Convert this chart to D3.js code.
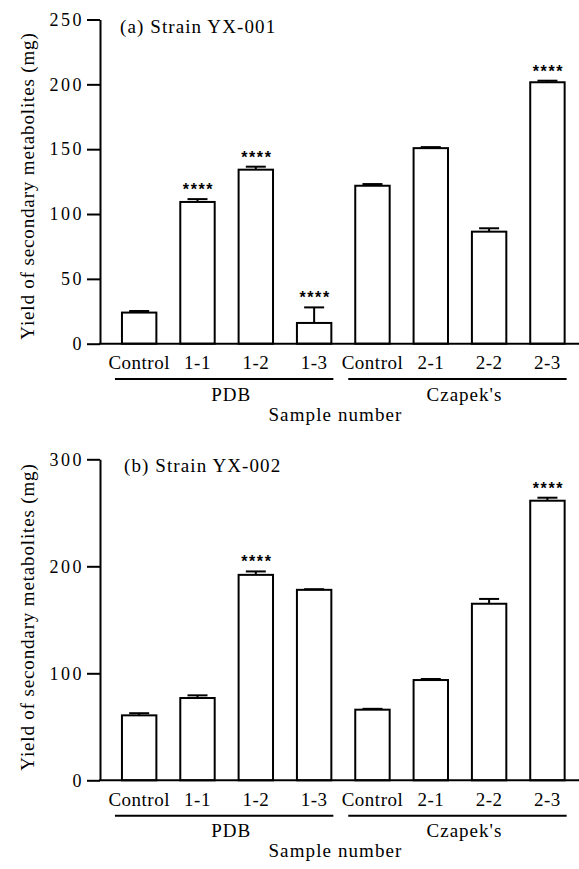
<!DOCTYPE html>
<html>
<head>
<meta charset="utf-8">
<script src="https://cdn.jsdelivr.net/npm/d3@7"></script>
<style>
  body { margin: 0; background: #fff; }
  text { font-family: "Liberation Serif", "Times New Roman", serif; fill: #000; }
</style>
</head>
<body>
<div id="chart"></div>
<script>
// sample order on the x axis (two controls, so keys differ from labels)
const sampleKeys = ["pdb-control", "1-1", "1-2", "1-3", "cz-control", "2-1", "2-2", "2-3"];
const sampleLabels = ["Control", "1-1", "1-2", "1-3", "Control", "2-1", "2-2", "2-3"];

// media groups under the x axis
const groupNames = ["PDB", "Czapek's"];
const groupFirst = ["pdb-control", "cz-control"];
const groupLast = ["1-3", "2-3"];

// (a) strain YX-001
const valuesA = [24, 109.3, 134.2, 16, 121.8, 150.8, 86.4, 201.6];
const errorsA = [1.2, 2.2, 2.3, 12, 1.3, 0.8, 2.6, 1.2];
const signifA = [false, true, true, true, false, false, false, true];
const ticksA = [0, 50, 100, 150, 200, 250];

// (b) strain YX-002
const valuesB = [60.7, 76.9, 192, 178, 66, 93.7, 165, 261.3];
const errorsB = [2, 2.5, 3.2, 0.6, 0.8, 1, 4.5, 2.8];
const signifB = [false, false, true, false, false, false, false, true];
const ticksB = [0, 100, 200, 300];

const width = 579, height = 869;
const axisX = 100;

const svg = d3.select("#chart")
  .append("svg")
  .attr("width", width)
  .attr("height", height);

// shared x scale, both panels use the same columns
const x = d3.scaleBand()
  .domain(sampleKeys)
  .range([110, 576.6])
  .paddingInner(0.41)
  .paddingOuter(0.205);

const panels = [
  {title: "(a) Strain YX-001", values: valuesA, errors: errorsA, signif: signifA,
   ticks: ticksA, top: 19.5, bottom: 343.7, titleX: 120, titleY: 33, labelY: 186},
  {title: "(b) Strain YX-002", values: valuesB, errors: errorsB, signif: signifB,
   ticks: ticksB, top: 459.3, bottom: 780.3, titleX: 124, titleY: 471.7, labelY: 617}
];

panels.forEach(function (p) {
  const g = svg.append("g");
  const yMax = d3.max(p.ticks);

  const y = d3.scaleLinear()
    .domain([0, yMax])
    .range([p.bottom, p.top]);

  const rows = sampleKeys.map(function (k, i) {
    return {key: k, value: p.values[i], err: p.errors[i], sig: p.signif[i]};
  });

  // bars
  g.selectAll("rect.bar")
    .data(rows)
    .enter()
    .append("rect")
      .attr("class", "bar")
      .attr("x", d => x(d.key))
      .attr("y", d => y(d.value))
      .attr("width", x.bandwidth())
      .attr("height", d => y(0) - y(d.value))
      .attr("fill", "#fff")
      .attr("stroke", "#000")
      .attr("stroke-width", 2);

  // error bars (upper half only)
  const err = g.selectAll("g.err")
    .data(rows)
    .enter()
    .append("g")
      .attr("class", "err")
      .attr("stroke", "#000")
      .attr("stroke-width", 2);

  err.append("line")
    .attr("x1", d => x(d.key) + x.bandwidth() / 2)
    .attr("x2", d => x(d.key) + x.bandwidth() / 2)
    .attr("y1", d => y(d.value))
    .attr("y2", d => y(d.value + d.err));

  err.append("line")
    .attr("x1", d => x(d.key) + x.bandwidth() / 2 - 10)
    .attr("x2", d => x(d.key) + x.bandwidth() / 2 + 10)
    .attr("y1", d => y(d.value + d.err))
    .attr("y2", d => y(d.value + d.err));

  // significance stars
  g.selectAll("text.star")
    .data(rows.filter(d => d.sig))
    .enter()
    .append("text")
      .attr("class", "star")
      .attr("x", d => x(d.key) + x.bandwidth() / 2 + 1)
      .attr("y", d => y(d.value + d.err) - 4)
      .attr("text-anchor", "middle")
      .style("font-family", "'Liberation Sans', Arial, sans-serif")
      .style("font-weight", "bold")
      .style("font-size", "16px")
      .style("letter-spacing", "1.6px")
      .text("****");

  // y axis
  const yAxis = g.append("g")
    .attr("transform", "translate(" + axisX + ",0)")
    .call(d3.axisLeft(y).tickValues(p.ticks).tickSize(13).tickSizeOuter(0).tickPadding(3));
  yAxis.selectAll("path, line").attr("stroke", "#000").attr("stroke-width", 2);
  yAxis.selectAll("text")
    .attr("font-family", null)
    .style("font-size", "18px")
    .style("letter-spacing", "2.5px");

  // x axis labels
  const xAxis = g.append("g")
    .attr("transform", "translate(0," + y(0) + ")")
    .call(d3.axisBottom(x).tickSize(0).tickPadding(12).tickFormat((k, i) => sampleLabels[i]));
  xAxis.select(".domain").remove();
  xAxis.selectAll("text")
    .attr("font-family", null)
    .style("font-size", "19px")
    .style("letter-spacing", "0.5px");

  // x axis line, runs from the y axis to the page edge
  g.append("line")
    .attr("x1", axisX - 1)
    .attr("x2", width)
    .attr("y1", y(0))
    .attr("y2", y(0))
    .attr("stroke", "#000")
    .attr("stroke-width", 2);

  // group lines and names
  groupNames.forEach(function (name, i) {
    const x1 = x(groupFirst[i]) - 7;
    const x2 = x(groupLast[i]) + x.bandwidth() + 2;
    g.append("line")
      .attr("x1", x1)
      .attr("x2", x2)
      .attr("y1", y(0) + 35.4)
      .attr("y2", y(0) + 35.4)
      .attr("stroke", "#000")
      .attr("stroke-width", 2);
    g.append("text")
      .attr("x", (x1 + x2) / 2 + 7)
      .attr("y", y(0) + 57)
      .attr("text-anchor", "middle")
      .style("font-size", "19px")
      .style("letter-spacing", "1px")
      .text(name);
  });

  // axis titles
  g.append("text")
    .attr("x", (axisX + 571) / 2)
    .attr("y", y(0) + 77)
    .attr("text-anchor", "middle")
    .style("font-size", "19px")
    .style("letter-spacing", "1.1px")
    .text("Sample number");

  g.append("text")
    .attr("transform", "translate(34," + p.labelY + ") rotate(-90)")
    .attr("text-anchor", "middle")
    .style("font-size", "19px")
    .style("letter-spacing", "0.85px")
    .text("Yield of secondary metabolites (mg)");

  // panel title
  g.append("text")
    .attr("x", p.titleX)
    .attr("y", p.titleY)
    .style("font-size", "19px")
    .style("letter-spacing", "1.1px")
    .text(p.title);
});
</script>
</body>
</html>
